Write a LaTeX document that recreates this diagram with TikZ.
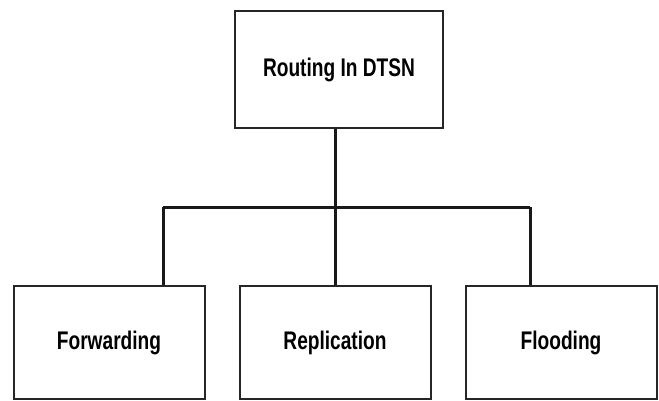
\documentclass[tikz,border=0pt]{standalone}
\usepackage{fontspec}
\setmainfont{Liberation Sans}[FakeStretch=0.75]
\usepackage{tikz}
\usetikzlibrary{positioning}

\begin{document}
\begin{tikzpicture}[
  x=1pt, y=-1pt,
  block/.style = {draw=black!85, line width=2pt, minimum height=113pt, minimum width=191pt,
                  align=center, font=\fontsize{25.5}{30}\selectfont\bfseries},
  link/.style = {line width=3pt, black!90},
  node distance=33pt
]
  \useasboundingbox (0,0) rectangle (659,401);

  % Root
  \node[block, minimum width=208pt, minimum height=117pt] (root) at (339,69.5) {Routing In DTSN};

  % Children
  \node[block] (replication) at (335,342.5) {Replication};
  \node[block, left=of replication] (forwarding) {Forwarding};
  \node[block, right=of replication] (flooding) {Flooding};

  % bus
  \coordinate (busL) at (163,207);
  \coordinate (busR) at (530,207);

  \draw[link] (root.south -| replication.north) -- (replication.north);
  \draw[link] (busL) -- (busR);
  \draw[link] (busL) -- (busL |- forwarding.north);
  \draw[link] (busR) -- (busR |- flooding.north);

\end{tikzpicture}
\end{document}
